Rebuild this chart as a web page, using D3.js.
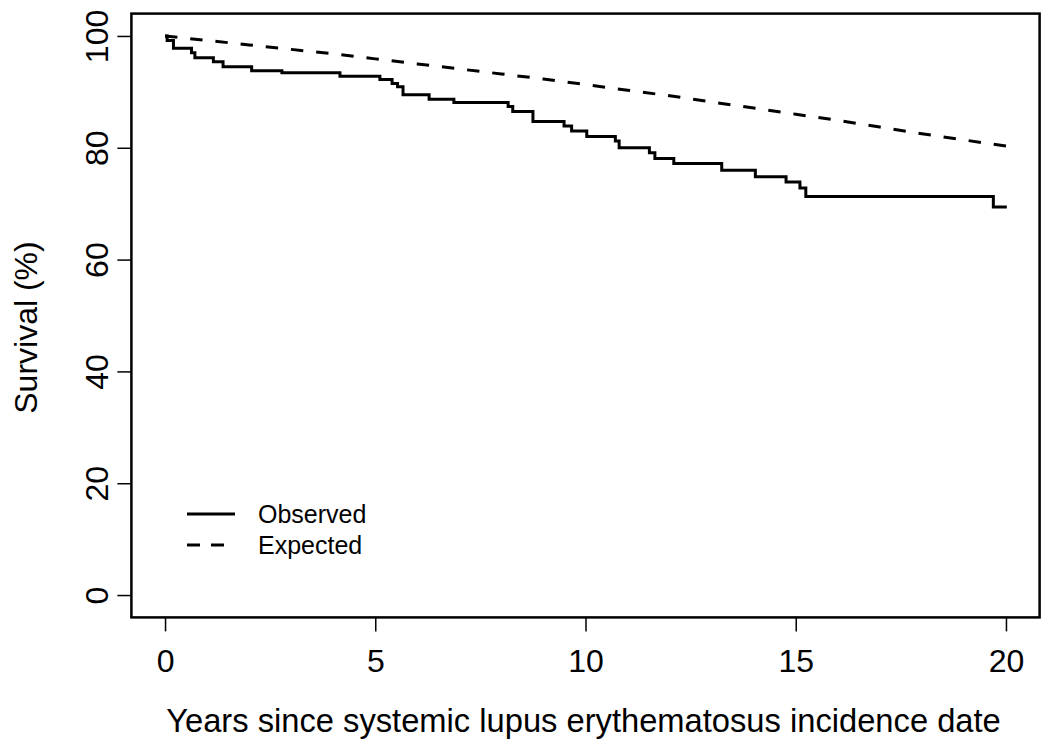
<!DOCTYPE html>
<html>
<head>
<meta charset="utf-8">
<script src="https://cdn.jsdelivr.net/npm/d3@7"></script>
<style>
  html, body { margin: 0; padding: 0; background: #fff; }
  svg { display: block; }
  text { font-family: "Liberation Sans", Arial, Helvetica, sans-serif; fill: #000; }
</style>
</head>
<body>
<svg id="chart" width="1050" height="751"></svg>
<script>
// observed Kaplan-Meier steps (years, survival %)
var obsTime = [0, 0.05, 0.2, 0.63, 0.71, 1.15, 1.38, 2.06, 2.78, 4.16, 5.11, 5.40, 5.53, 5.66,
  6.28, 6.87, 8.16, 8.27, 8.75, 9.49, 9.67, 10.03, 10.71, 10.80, 11.52, 11.65, 12.10,
  13.24, 14.04, 14.77, 15.10, 15.24, 19.70, 20.02];
var obsSurv = [100, 99.2, 97.8, 97.0, 96.1, 95.4, 94.5, 93.8, 93.4, 92.8, 92.2, 91.5, 90.9, 89.5,
  88.7, 88.1, 87.4, 86.5, 84.7, 83.9, 83.0, 82.0, 81.2, 80.0, 79.1, 78.1, 77.2,
  76.0, 74.8, 73.9, 72.8, 71.3, 69.4, 69.4];

// expected survival
var expTime = [0, 1, 2, 3, 4, 5, 6, 7, 8, 9, 10, 11, 12, 13, 14, 15, 16, 17, 18, 19, 20];
var expSurv = [100, 99.2, 98.4, 97.6, 96.8, 95.9, 95.0, 94.1, 93.2, 92.3, 91.3,
  90.3, 89.3, 88.2, 87.1, 86.0, 84.9, 83.7, 82.5, 81.4, 80.3];

var xTicks = [0, 5, 10, 15, 20];
var yTicks = [0, 20, 40, 60, 80, 100];
var legendLabels = ["Observed", "Expected"];

var svg = d3.select("#chart");

var pLeft = 131.4, pRight = 1039.6, pTop = 13.6, pBottom = 617.4;

var x = d3.scaleLinear().domain([-0.8, 20.8]).range([pLeft, pRight]);
var y = d3.scaleLinear().domain([-4, 104]).range([pBottom, pTop]);

// x axis
var xAxis = svg.append("g")
  .attr("transform", "translate(0," + pBottom + ")")
  .call(d3.axisBottom(x).tickValues(xTicks).tickSize(14).tickPadding(0).tickFormat(d3.format("d")));
xAxis.select(".domain").remove();
xAxis.selectAll("line").attr("stroke", "#000").attr("stroke-width", 1.5);
xAxis.selectAll("text")
  .attr("y", 55).attr("dy", null)
  .style("font-size", "32px");

// y axis
var yAxis = svg.append("g")
  .attr("transform", "translate(" + pLeft + ",0)")
  .call(d3.axisLeft(y).tickValues(yTicks).tickSize(14).tickFormat(d3.format("d")));
yAxis.select(".domain").remove();
yAxis.selectAll("line").attr("stroke", "#000").attr("stroke-width", 1.5);
yAxis.selectAll("text")
  .attr("x", null).attr("dy", null)
  .attr("text-anchor", "middle")
  .attr("transform", "translate(-23,0) rotate(-90)")
  .style("font-size", "32px");

// box
svg.append("rect")
  .attr("x", pLeft).attr("y", pTop)
  .attr("width", pRight - pLeft).attr("height", pBottom - pTop)
  .attr("fill", "none").attr("stroke", "#000").attr("stroke-width", 2.5);

// titles
svg.append("text")
  .attr("x", (pLeft + pRight) / 2 - 2).attr("y", 732)
  .attr("text-anchor", "middle")
  .style("font-size", "32.7px")
  .text("Years since systemic lupus erythematosus incidence date");

svg.append("text")
  .attr("transform", "translate(37," + ((pTop + pBottom) / 2 + 12) + ") rotate(-90)")
  .attr("text-anchor", "middle")
  .style("font-size", "32px")
  .text("Survival (%)");

// curves
var obsLine = d3.line()
  .x(function(d, i) { return x(obsTime[i]); })
  .y(function(d, i) { return y(obsSurv[i]); })
  .curve(d3.curveStepAfter);

var expLine = d3.line()
  .x(function(d, i) { return x(expTime[i]); })
  .y(function(d, i) { return y(expSurv[i]); });

var expPath = svg.append("path")
  .datum(expSurv)
  .attr("d", expLine)
  .attr("fill", "none")
  .attr("stroke", "#000")
  .attr("stroke-width", 3);

// fit the dash period so a dash ends at t = 20, as in the original
var len = expPath.node().getTotalLength();
var dash = 12.4;
var period = (len - dash) / Math.round((len - dash) / 25);
expPath.attr("stroke-dasharray", dash + "," + (period - dash));

svg.append("path")
  .datum(obsSurv)
  .attr("d", obsLine)
  .attr("fill", "none")
  .attr("stroke", "#000")
  .attr("stroke-width", 3)
  .attr("stroke-linejoin", "miter");

// legend
var legend = svg.append("g");
var legendDash = [null, "13,11"];
legendLabels.forEach(function(lab, i) {
  var ly = 514 + i * 31;
  legend.append("line")
    .attr("x1", 187).attr("x2", 235)
    .attr("y1", ly).attr("y2", ly)
    .attr("stroke", "#000").attr("stroke-width", 3)
    .attr("stroke-dasharray", legendDash[i]);
  legend.append("text")
    .attr("x", 258).attr("y", ly + 9)
    .style("font-size", "25px")
    .text(lab);
});
</script>
</body>
</html>
